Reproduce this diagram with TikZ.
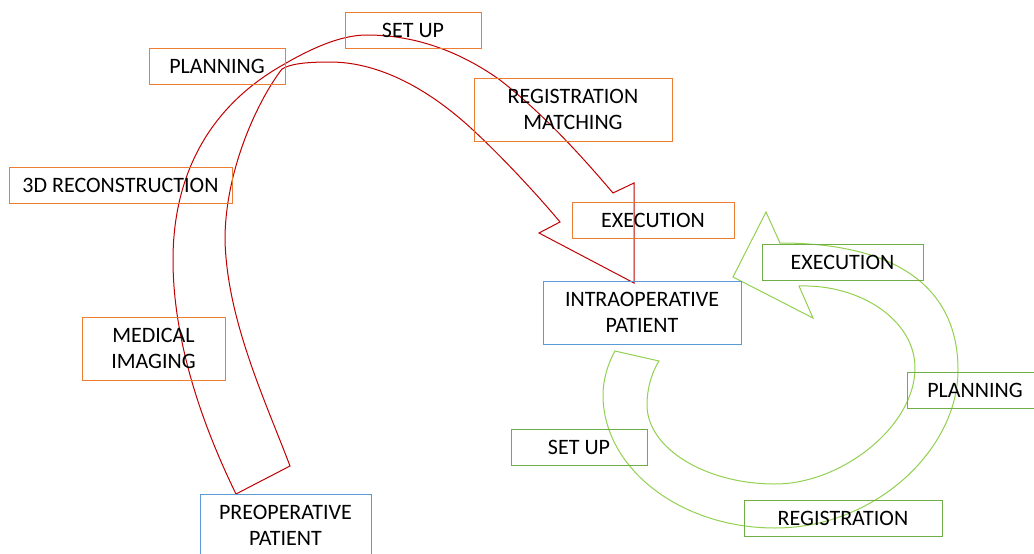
\documentclass[tikz,border=0pt]{standalone}
\usepackage{fontspec}
\setmainfont{Carlito}
\definecolor{orangeC}{HTML}{ED7D31}
\definecolor{blueC}{HTML}{5B9BD5}
\definecolor{greenC}{HTML}{70AD47}
\definecolor{lgreenC}{HTML}{92D050}
\definecolor{redC}{HTML}{C00000}
\begin{document}
\begin{tikzpicture}[x=1pt,y=-1pt,
  box/.style={draw, line width=0.9pt, inner sep=0pt, minimum height=36pt, align=center,
    font=\fontsize{22}{26}\selectfont, text=black},
  obox/.style={box, draw=orangeC},
  bbox/.style={box, draw=blueC, minimum height=63pt},
  gbox/.style={box, draw=greenC},
  redarrow/.style={draw=redC, line width=1pt, line join=miter},
  greenarrow/.style={draw=lgreenC, line width=1pt, line join=miter}]
\useasboundingbox (0,0) rectangle (1034,554);
\clip (0,0) rectangle (1034,554);

% red curved block arrow
\draw[redarrow] (236,494)
  .. controls (195,410) and (173,330) .. (173,260)
  .. controls (173,180) and (205,110) .. (281,66)
  .. controls (310,49) and (340,35) .. (367,35)
  .. controls (420,35) and (465,55) .. (500,80)
  .. controls (545,115) and (585,160) .. (613,193)
  -- (634,183) -- (634,283) -- (539,233) -- (560,222)
  .. controls (535,192) and (500,155) .. (473,130)
  .. controls (430,90) and (380,62) .. (330,62)
  .. controls (305,62) and (290,64) .. (282,69)
  .. controls (258,100) and (225,170) .. (225,240)
  .. controls (227,320) and (265,400) .. (290,466)
  -- cycle;

% green circular block arrow
\draw[greenarrow] (615,351) -- (659,361)
  .. controls (652,372) and (647,388) .. (647,405)
  .. controls (647,448) and (705,484) .. (775,484)
  .. controls (842,484) and (915,426) .. (915,368)
  .. controls (915,320) and (860,284) .. (799,286)
  -- (813,318) -- (733,277) -- (766,212) -- (780,243)
  .. controls (896,243) and (958,287) .. (958,370)
  .. controls (958,449) and (876,528) .. (775,528)
  .. controls (680,528) and (603,468) .. (603,395)
  .. controls (603,380) and (608,363) .. (615,351)
  -- cycle;

% orange boxes
\node[obox, minimum width=136pt] (setup) at (413,30) {SET UP};
\node[obox, minimum width=136pt] (planning) at (217,66) {PLANNING};
\node[obox, minimum width=198pt, minimum height=63pt] (regmatch) at (573,109.5) {REGISTRATION\\MATCHING};
\node[obox, minimum width=223pt] (recon) at (120.5,185) {3D RECONSTRUCTION};
\node[obox, minimum width=162pt] (execo) at (653,220) {EXECUTION};
\node[obox, minimum width=143pt, minimum height=63pt] (imaging) at (153.5,348.5) {MEDICAL\\IMAGING};

% blue boxes
\node[bbox, minimum width=198pt] (intra) at (642,312.5) {INTRAOPERATIVE\\PATIENT};
\node[bbox, minimum width=171pt] (pre) at (285.5,525.5) {PREOPERATIVE\\PATIENT};

% green boxes
\node[gbox, minimum width=161pt] (execg) at (842.5,262) {EXECUTION};
\node[gbox, minimum width=136pt] (planningg) at (975,390) {PLANNING};
\node[gbox, minimum width=136pt] (setupg) at (579,447) {SET UP};
\node[gbox, minimum width=198pt] (regg) at (843,518) {REGISTRATION};
\end{tikzpicture}
\end{document}
